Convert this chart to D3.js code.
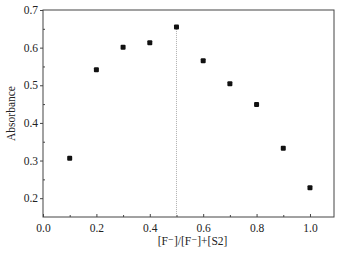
<!DOCTYPE html>
<html>
<head>
<meta charset="utf-8">
<script src="https://cdn.jsdelivr.net/npm/d3@7"></script>
<style>
  body { margin: 0; background: #fff; }
  svg text { font-family: "Liberation Serif", "DejaVu Serif", serif; fill: #222; }
</style>
</head>
<body>
<svg id="chart"></svg>
<script>
const molFraction = [0.1, 0.2, 0.3, 0.4, 0.5, 0.6, 0.7, 0.8, 0.9, 1.0];
const absorbance = [0.306, 0.541, 0.601, 0.613, 0.655, 0.565, 0.504, 0.449, 0.333, 0.228];
const xTicks = [0.0, 0.2, 0.4, 0.6, 0.8, 1.0];
const yTicks = [0.2, 0.3, 0.4, 0.5, 0.6, 0.7];
const jobX = 0.5;

const W = 342, H = 254;
const margin = { top: 10, right: 8, bottom: 37, left: 43 };
const width = W - margin.left - margin.right;
const height = H - margin.top - margin.bottom;

const svg = d3.select("#chart").attr("width", W).attr("height", H);
const g = svg.append("g").attr("transform", `translate(${margin.left},${margin.top})`);

const x = d3.scaleLinear().domain([0, 1.09]).range([0, width]);
const y = d3.scaleLinear().domain([0.15, 0.7]).range([height, 0]);

// frame
g.append("rect")
    .attr("width", width).attr("height", height)
    .attr("fill", "none").attr("stroke", "#444").attr("stroke-width", 1);

// x axis, ticks pointing in
const xAxis = g.append("g").attr("transform", `translate(0,${height})`)
    .call(d3.axisBottom(x).tickValues(xTicks).tickFormat(d3.format(".1f")).tickSizeInner(-3).tickSizeOuter(0).tickPadding(7));
xAxis.select(".domain").remove();
g.append("g").attr("transform", `translate(0,${height})`)
    .call(d3.axisBottom(x).tickValues(d3.range(0.1, 1.09, 0.2)).tickFormat("").tickSizeInner(-2).tickSizeOuter(0))
    .select(".domain").remove();

// y axis, major ticks out, minor in
const yAxis = g.append("g")
    .call(d3.axisLeft(y).tickValues(yTicks).tickFormat(d3.format(".1f")).tickSizeInner(3).tickSizeOuter(0).tickPadding(2));
yAxis.select(".domain").remove();
g.append("g")
    .call(d3.axisLeft(y).tickValues([0.25, 0.35, 0.45, 0.55, 0.65]).tickFormat("").tickSizeInner(-2).tickSizeOuter(0))
    .select(".domain").remove();

g.selectAll(".tick line").attr("stroke", "#444");
g.selectAll(".tick text").style("font-size", "11.5px").attr("fill", "#333");

// dotted line at the maximum
g.append("line")
    .attr("x1", x(jobX)).attr("x2", x(jobX))
    .attr("y1", y(absorbance[molFraction.indexOf(jobX)])).attr("y2", height)
    .attr("stroke", "#999").attr("stroke-width", 0.8).attr("stroke-dasharray", "1,1");

// points
g.selectAll(".pt")
    .data(molFraction.map((d, i) => [d, absorbance[i]]))
    .enter().append("rect")
    .attr("class", "pt")
    .attr("x", d => x(d[0]) - 2.5)
    .attr("y", d => y(d[1]) - 2.5)
    .attr("width", 5).attr("height", 5)
    .attr("rx", 1)
    .attr("fill", "#111");

// axis titles
svg.append("text")
    .attr("transform", `translate(15,${margin.top + height / 2}) rotate(-90)`)
    .attr("text-anchor", "middle")
    .style("font-size", "11.5px")
    .text("Absorbance");

svg.append("text")
    .attr("x", margin.left + x(0.56)).attr("y", 245)
    .attr("text-anchor", "middle")
    .style("font-size", "11.5px")
    .text("[F\u207B]/[F\u207B]+[S2]");
</script>
</body>
</html>
